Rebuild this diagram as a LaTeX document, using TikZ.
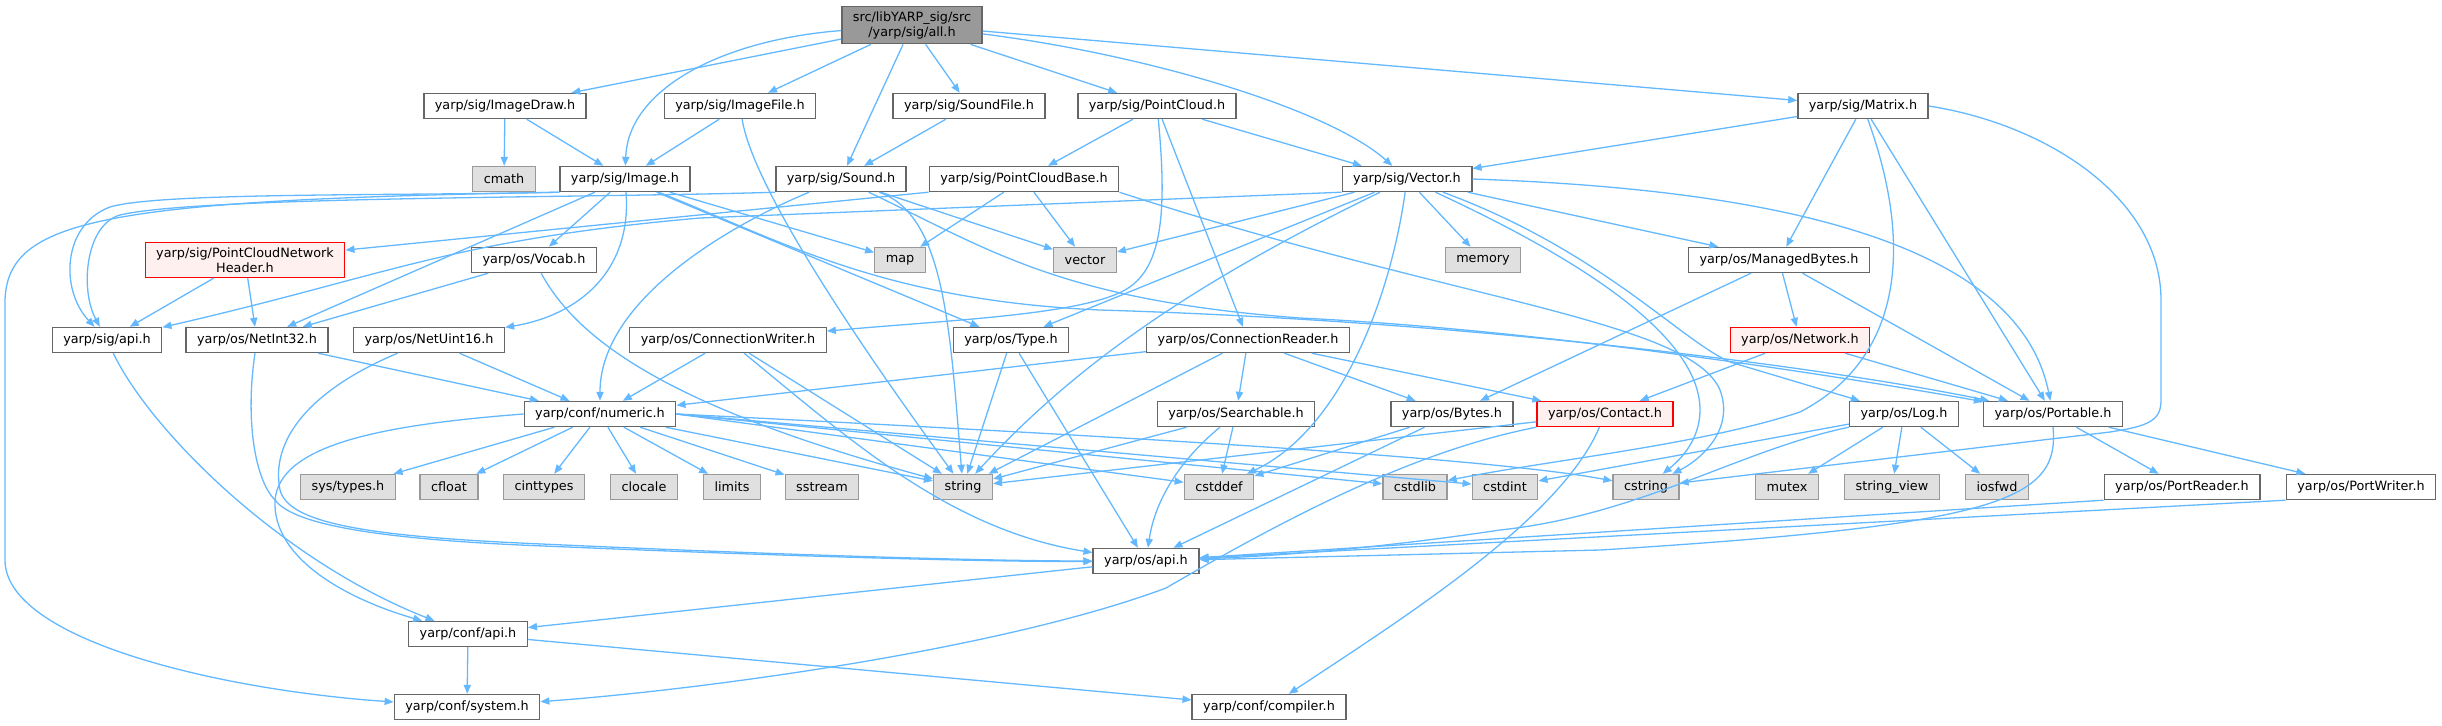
\documentclass[tikz,border=0pt]{standalone}
\usepackage{fontspec}
\setmainfont{DejaVu Sans}
\usepackage{xcolor}
\usepackage{tikz}
\usetikzlibrary{arrows.meta}
\definecolor{edgecol}{HTML}{63B8FF}
\definecolor{boxline}{HTML}{666666}
\definecolor{sysline}{HTML}{999999}
\definecolor{sysfill}{HTML}{E0E0E0}
\definecolor{rootfill}{HTML}{999999}
\definecolor{missfill}{HTML}{FFF0F0}

\begin{document}
\begin{tikzpicture}[
  x=0.5pt, y=-0.5pt,
  hdr/.style={draw=boxline, fill=white, line width=0.7pt, minimum height=12.5pt, inner xsep=5.5pt, inner ysep=1pt, font=\fontsize{6.4}{7.5}\selectfont, align=center},
  syshdr/.style={hdr, draw=sysline, fill=sysfill},
  redhdr/.style={hdr, draw=red, fill=missfill, inner ysep=2.5pt},
  root/.style={hdr, fill=rootfill, inner ysep=2.5pt},
  arr/.style={-{Triangle[length=4.5pt, width=3.6pt]}, draw=edgecol, line width=0.65pt}
]
\useasboundingbox (0,0) rectangle (2442,725);

\node[root] (all) at (912,25) {src/libYARP\_sig/src\\/yarp/sig/all.h};

\node[hdr] (imagedraw) at (505,106) {yarp/sig/ImageDraw.h};
\node[hdr] (imagefile) at (740,106) {yarp/sig/ImageFile.h};
\node[hdr] (soundfile) at (969,106) {yarp/sig/SoundFile.h};
\node[hdr] (pointcloud) at (1157,106) {yarp/sig/PointCloud.h};
\node[hdr] (matrix) at (1863,106) {yarp/sig/Matrix.h};

\node[syshdr] (cmath) at (504,179) {cmath};
\node[hdr] (image) at (625,179) {yarp/sig/Image.h};
\node[hdr] (sound) at (841,179) {yarp/sig/Sound.h};
\node[hdr] (pcbase) at (1024,179) {yarp/sig/PointCloudBase.h};
\node[hdr] (vectorh) at (1407,179) {yarp/sig/Vector.h};

\node[redhdr] (pcnh) at (245,260) {yarp/sig/PointCloudNetwork\\Header.h};
\node[hdr] (vocab) at (534,260) {yarp/os/Vocab.h};
\node[syshdr] (map) at (900,260) {map};
\node[syshdr] (vectorstd) at (1085,260) {vector};
\node[syshdr] (memory) at (1483,260) {memory};
\node[hdr] (managedbytes) at (1779,260) {yarp/os/ManagedBytes.h};

\node[hdr] (sigapi) at (107,340) {yarp/sig/api.h};
\node[hdr] (netint32) at (257,340) {yarp/os/NetInt32.h};
\node[hdr] (netuint16) at (429,340) {yarp/os/NetUint16.h};
\node[hdr] (connwriter) at (728,340) {yarp/os/ConnectionWriter.h};
\node[hdr] (type) at (1011,340) {yarp/os/Type.h};
\node[hdr] (connreader) at (1248,340) {yarp/os/ConnectionReader.h};
\node[redhdr, inner ysep=1pt] (network) at (1800,340) {yarp/os/Network.h};

\node[hdr] (numeric) at (600,414) {yarp/conf/numeric.h};
\node[hdr] (searchable) at (1236,414) {yarp/os/Searchable.h};
\node[hdr] (bytes) at (1452,414) {yarp/os/Bytes.h};
\node[redhdr, inner ysep=1pt] (contact) at (1605,414) {yarp/os/Contact.h};
\node[hdr] (log) at (1904,414) {yarp/os/Log.h};
\node[hdr] (portable) at (2053,414) {yarp/os/Portable.h};

\node[syshdr] (systypes) at (348,487) {sys/types.h};
\node[syshdr] (cfloat) at (449,487) {cfloat};
\node[syshdr] (cinttypes) at (544,487) {cinttypes};
\node[syshdr] (clocale) at (644,487) {clocale};
\node[syshdr] (limits) at (732,487) {limits};
\node[syshdr] (sstream) at (822,487) {sstream};
\node[syshdr] (string) at (963,487) {string};
\node[syshdr] (cstddef) at (1219,487) {cstddef};
\node[syshdr] (cstdlib) at (1415,487) {cstdlib};
\node[syshdr] (cstdint) at (1505,487) {cstdint};
\node[syshdr] (cstring) at (1646,487) {cstring};
\node[syshdr] (mutex) at (1787,487) {mutex};
\node[syshdr] (stringview) at (1892,487) {string\_view};
\node[syshdr] (iosfwd) at (1997,487) {iosfwd};
\node[hdr] (portreader) at (2182,487) {yarp/os/PortReader.h};
\node[hdr] (portwriter) at (2361,487) {yarp/os/PortWriter.h};

\node[hdr] (osapi) at (1146,561) {yarp/os/api.h};
\node[hdr] (confapi) at (468,634) {yarp/conf/api.h};
\node[hdr] (system) at (467,707) {yarp/conf/system.h};
\node[hdr] (compiler) at (1269,707) {yarp/conf/compiler.h};

\draw[arr] (all) -- (imagedraw);
\draw[arr] (all) .. controls (720,40) and (628,90) .. (image);
\draw[arr] (all) -- (imagefile);
\draw[arr] (all) -- (sound);
\draw[arr] (all) -- (soundfile);
\draw[arr] (all) -- (pointcloud);
\draw[arr] (all) .. controls (1150,55) and (1330,110) .. (vectorh);
\draw[arr] (all) -- (matrix);

\draw[arr] (imagedraw) -- (cmath);
\draw[arr] (imagedraw) -- (image);
\draw[arr] (imagefile) -- (image);
\draw[arr] (imagefile) .. controls (755,200) and (900,400) .. (string);
\draw[arr] (soundfile) -- (sound);

\draw[arr] (pointcloud) -- (pcbase);
\draw[arr] (pointcloud) -- (vectorh);
\draw[arr] (pointcloud) .. controls (1168,220) and (1160,270) .. (1125,290) .. controls (1080,315) and (950,320) .. (connwriter);
\draw[arr] (pointcloud) -- (connreader);

\draw[arr] (matrix) -- (vectorh);
\draw[arr] (matrix) -- (managedbytes);
\draw[arr] (matrix) -- (portable);
\draw[arr] (matrix) .. controls (1915,250) and (1900,360) .. (1800,412) .. controls (1700,445) and (1550,460) .. (cstdlib);
\draw[arr] (matrix.east) .. controls (2050,125) and (2161,200) .. (2161,300) -- (2161,400) .. controls (2161,420) and (2150,426) .. (2110,432) -- (cstring);

\draw[arr] (image.south west) .. controls (400,196) and (160,192) .. (110,207) .. controls (62,225) and (60,290) .. (sigapi);
\draw[arr] (image.south west) .. controls (100,200) and (8,220) .. (5,300) -- (5,560) .. controls (5,640) and (220,690) .. (system);
\draw[arr] (image) -- (netint32);
\draw[arr] (image) -- (vocab);
\draw[arr] (image) .. controls (632,270) and (580,315) .. (netuint16);
\draw[arr] (image) -- (map);
\draw[arr] (image) -- (type);
\draw[arr] (image) .. controls (780,240) and (880,300) .. (1100,310) .. controls (1500,322) and (1850,372) .. (portable);

\draw[arr] (sound.south west) .. controls (600,198) and (200,196) .. (120,215) .. controls (85,225) and (80,290) .. (sigapi);
\draw[arr] (sound) .. controls (730,225) and (600,300) .. (numeric);
\draw[arr] (sound) -- (vectorstd);
\draw[arr] (sound) .. controls (945,215) and (950,330) .. (string);
\draw[arr] (sound) .. controls (990,250) and (1060,300) .. (1300,318) .. controls (1550,330) and (1850,378) .. (portable);

\draw[arr] (pcbase.south west) -- (pcnh);
\draw[arr] (pcbase) -- (map);
\draw[arr] (pcbase) -- (vectorstd);
\draw[arr] (pcbase.south east) .. controls (1450,300) and (1690,320) .. (1720,390) .. controls (1735,430) and (1700,460) .. (cstring);

\draw[arr] (vectorh.south west) -- (700,218) .. controls (450,240) and (390,275) .. (sigapi);
\draw[arr] (vectorh) -- (vectorstd);
\draw[arr] (vectorh) -- (type);
\draw[arr] (vectorh) .. controls (1200,280) and (1080,360) .. (string);
\draw[arr] (vectorh) .. controls (1390,300) and (1340,430) .. (cstddef);
\draw[arr] (vectorh) -- (memory);
\draw[arr] (vectorh) -- (managedbytes);
\draw[arr] (vectorh) .. controls (1560,250) and (1700,330) .. (1700,410) .. controls (1700,440) and (1680,460) .. (cstring);
\draw[arr] (vectorh) .. controls (1600,250) and (1680,340) .. (1730,362) -- (log);
\draw[arr] (vectorh.east) .. controls (1800,190) and (2020,250) .. (portable);

\draw[arr] (pcnh) -- (sigapi);
\draw[arr] (pcnh) -- (netint32);
\draw[arr] (vocab) -- (netint32);
\draw[arr] (vocab) .. controls (580,345) and (680,410) .. (string);
\draw[arr] (managedbytes) -- (bytes);
\draw[arr] (managedbytes) -- (network);
\draw[arr] (managedbytes) -- (portable);
\draw[arr] (network) -- (contact);
\draw[arr] (network) -- (portable);

\draw[arr] (sigapi) .. controls (150,430) and (280,560) .. (confapi);
\draw[arr] (netint32) -- (numeric);
\draw[arr] (netint32) .. controls (245,420) and (255,480) .. (275,500) .. controls (290,520) and (350,537) .. (520,545) .. controls (800,557) and (1000,562) .. (osapi);
\draw[arr] (netuint16) -- (numeric);
\draw[arr] (netuint16) .. controls (310,390) and (270,440) .. (280,490) .. controls (288,520) and (350,535) .. (520,543) .. controls (800,556) and (1000,561) .. (osapi);
\draw[arr] (connwriter) -- (numeric);
\draw[arr] (connwriter) -- (string);
\draw[arr] (connwriter) .. controls (850,440) and (950,530) .. (osapi);
\draw[arr] (type) -- (string);
\draw[arr] (type) -- (osapi);
\draw[arr] (connreader) -- (numeric);
\draw[arr] (connreader) -- (string);
\draw[arr] (connreader) -- (searchable);
\draw[arr] (connreader) -- (bytes);
\draw[arr] (connreader) -- (contact);

\draw[arr] (numeric) -- (systypes);
\draw[arr] (numeric) -- (cfloat);
\draw[arr] (numeric) -- (cinttypes);
\draw[arr] (numeric) -- (clocale);
\draw[arr] (numeric) -- (limits);
\draw[arr] (numeric) -- (sstream);
\draw[arr] (numeric) -- (string);
\draw[arr] (numeric.east) -- (cstddef);
\draw[arr] (numeric.east) -- (cstdlib);
\draw[arr] (numeric.east) -- (cstdint);
\draw[arr] (numeric.east) .. controls (1200,440) and (1500,460) .. (cstring);
\draw[arr] (numeric.west) .. controls (380,425) and (280,445) .. (275,500) .. controls (272,560) and (350,600) .. (confapi);

\draw[arr] (searchable) -- (string);
\draw[arr] (searchable) -- (cstddef);
\draw[arr] (searchable) .. controls (1180,460) and (1155,500) .. (osapi);
\draw[arr] (bytes) -- (cstddef);
\draw[arr] (bytes) -- (osapi);
\draw[arr] (contact) -- (string);
\draw[arr] (contact.south west) .. controls (1420,450) and (1300,510) .. (1166,588) .. controls (1000,650) and (700,690) .. (system);
\draw[arr] (contact) .. controls (1560,520) and (1400,620) .. (compiler);

\draw[arr] (log) -- (cstdint);
\draw[arr] (log.south west) .. controls (1740,450) and (1640,515) .. (1500,530) .. controls (1400,545) and (1300,555) .. (osapi);
\draw[arr] (log) -- (mutex);
\draw[arr] (log) -- (stringview);
\draw[arr] (log) -- (iosfwd);
\draw[arr] (portable) -- (portreader);
\draw[arr] (portable) -- (portwriter);
\draw[arr] (portable.south) .. controls (2060,500) and (2000,525) .. (1600,550) -- (osapi);
\draw[arr] (portreader.south west) -- (osapi);
\draw[arr] (portwriter.south west) -- (osapi);

\draw[arr] (osapi) -- (confapi);
\draw[arr] (confapi) -- (system);
\draw[arr] (confapi) -- (compiler);
\end{tikzpicture}
\end{document}
